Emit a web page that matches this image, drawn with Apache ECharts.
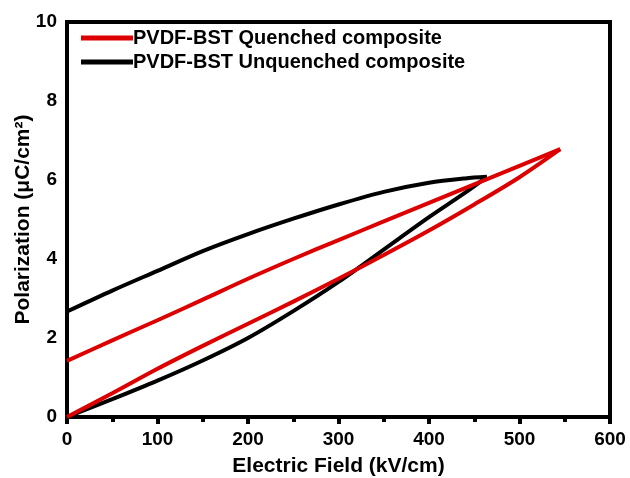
<!DOCTYPE html>
<html>
<head>
<meta charset="utf-8">
<script src="https://cdn.jsdelivr.net/npm/echarts@6/dist/echarts.min.js"></script>
<style>html,body{margin:0;padding:0;background:#fff}#c{width:630px;height:478px}</style>
</head>
<body>
<div id="c"></div>
<script>
// Field values (kV/cm) and polarization (uC/cm2)
const quenchedRisingE = [0, 50, 100, 150, 200, 250, 300, 350, 400, 450, 500, 545];
const quenchedRisingP = [0, 0.6, 1.22, 1.8, 2.36, 2.92, 3.5, 4.1, 4.72, 5.38, 6.07, 6.78];
const quenchedFallingE = [545, 500, 450, 400, 350, 300, 250, 200, 150, 100, 50, 0];
const quenchedFallingP = [6.78, 6.36, 5.89, 5.42, 4.95, 4.48, 4.0, 3.5, 2.97, 2.45, 1.94, 1.42];

const unquenchedRisingE = [0, 50, 100, 150, 200, 250, 300, 350, 400, 440, 464];
const unquenchedRisingP = [0, 0.45, 0.92, 1.43, 2.0, 2.68, 3.42, 4.24, 5.06, 5.68, 6.08];
const unquenchedFallingE = [464, 440, 400, 350, 300, 250, 200, 150, 100, 50, 0];
const unquenchedFallingP = [6.08, 6.04, 5.93, 5.7, 5.38, 5.02, 4.63, 4.2, 3.7, 3.2, 2.67];

const xTicks = [0, 100, 200, 300, 400, 500, 600];
const yTicks = [0, 2, 4, 6, 8, 10];

const seriesNames = ['PVDF-BST Quenched composite', 'PVDF-BST Unquenched composite'];
const seriesColors = ['#dd0000', '#000000'];

function pairs(E, P) { return E.map((e, i) => [e, P[i]]); }

const font = 'Liberation Sans, Arial, sans-serif';
function branch(nameIdx, data, z) {
  return {name: seriesNames[nameIdx], type: 'line', data: data, smooth: 0.3, showSymbol: false, symbol: 'none',
    lineStyle: {color: seriesColors[nameIdx], width: 4}, itemStyle: {color: seriesColors[nameIdx]}, z: z};
}
const chart = echarts.init(document.getElementById('c'), null, {renderer: 'canvas'});
chart.setOption({
  backgroundColor: '#ffffff',
  animation: false,
  grid: {left: 67, right: 20, top: 22, bottom: 61, outerBoundsMode: 'none', containLabel: false,
    show: true, borderColor: '#000', borderWidth: 4, backgroundColor: 'transparent'},
  legend: {
    data: seriesNames,
    orient: 'vertical',
    left: 76, top: 23,
    itemWidth: 52, itemHeight: 5, itemGap: 4,
    icon: 'rect',
    textStyle: {fontFamily: font, fontWeight: 'bold', fontSize: 20, color: '#000', padding: [0,0,0,-5]}
  },
  xAxis: {
    type: 'value', min: xTicks[0], max: xTicks[xTicks.length - 1], interval: 100,
    name: 'Electric Field (kV/cm)', nameLocation: 'middle', nameGap: 39, nameMoveOverlap: false,
    nameTextStyle: {fontFamily: font, fontWeight: 'bold', fontSize: 21, color: '#000'},
    axisLine: {show: true, lineStyle: {color: '#000', width: 4}},
    axisTick: {show: true, inside: false, length: 7, lineStyle: {width: 4, color: '#000'}},
    minorTick: {show: true, splitNumber: 2, length: 5, lineStyle: {width: 4, color: '#000'}},
    axisLabel: {fontFamily: font, fontWeight: 'bold', fontSize: 19, color: '#000', margin: 13},
    splitLine: {show: false}
  },
  yAxis: {
    type: 'value', min: yTicks[0], max: yTicks[yTicks.length - 1], interval: 2,
    name: 'Polarization (μC/cm²)', nameLocation: 'middle', nameGap: 33, nameMoveOverlap: false,
    nameTextStyle: {fontFamily: font, fontWeight: 'bold', fontSize: 21, color: '#000'},
    axisLine: {show: true, lineStyle: {color: '#000', width: 4}},
    axisTick: {show: false},
    axisLabel: {fontFamily: font, fontWeight: 'bold', fontSize: 19, color: '#000', margin: 10},
    splitLine: {show: false}
  },
  series: [
    branch(1, pairs(unquenchedRisingE, unquenchedRisingP), 2),
    branch(1, pairs(unquenchedFallingE, unquenchedFallingP), 2),
    branch(0, pairs(quenchedRisingE, quenchedRisingP), 3),
    branch(0, pairs(quenchedFallingE, quenchedFallingP), 3)
  ]
});
</script>
</body>
</html>
